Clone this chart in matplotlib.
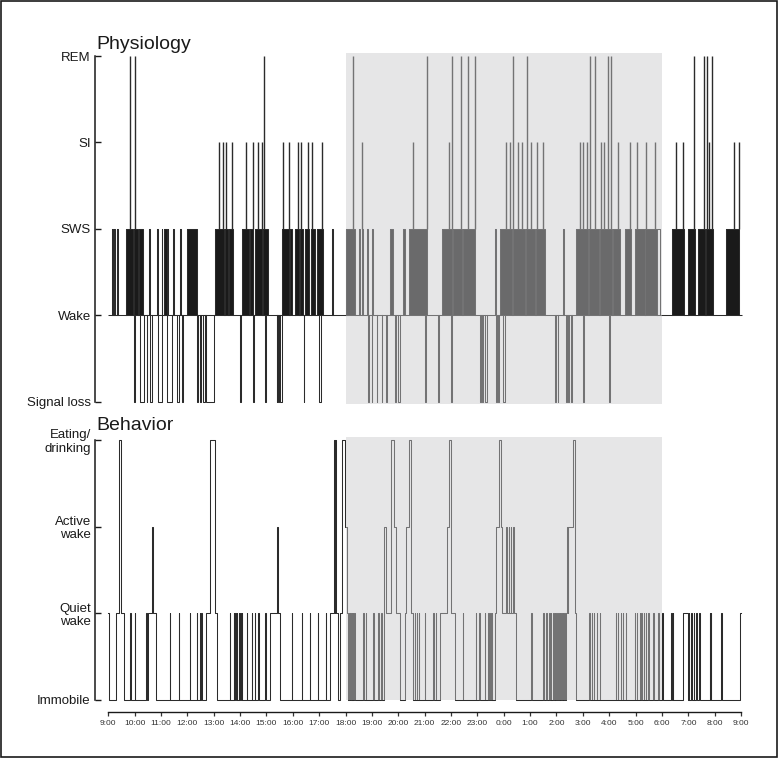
import matplotlib.pyplot as plt
from matplotlib.patches import Rectangle

plt.rcParams['font.family'] = ['Liberation Sans', 'DejaVu Sans']

# time axis: clock hours from 9:00 to 9:00 next day (24 = midnight)
hour_ticks = list(range(9, 34))
hour_labels = [f"{h % 24}:00" for h in hour_ticks]
night = (18, 30)  # dark phase 18:00 - 6:00

# ---- physiology (0 signal loss, 1 wake, 2 SWS, 3 SI, 4 REM)
phys_labels = ['Signal loss', 'Wake', 'SWS', 'SI', 'REM']
phys_span = (9.0, 33.05)

sws_blocks = [
    (9.13, 9.17), (9.22, 9.24), (9.32, 9.38),
    (9.67, 9.92), (9.97, 10.11), (10.15, 10.30),
    (10.55, 10.59), (10.86, 10.90),
    (11.02, 11.05), (11.10, 11.21), (11.25, 11.28),
    (11.44, 11.49), (11.72, 11.77),
    (12.00, 12.35),
    (13.05, 13.39), (13.42, 13.53), (13.56, 13.74),
    (14.06, 14.34), (14.38, 14.50), (14.57, 14.83), (14.86, 15.07),
    (15.57, 15.87), (15.89, 15.95),
    (16.07, 16.22), (16.27, 16.39), (16.45, 16.62), (16.67, 16.85), (16.90, 17.14),
    (17.47, 17.51),
    (18.01, 18.35), (18.52, 18.56), (18.61, 18.65), (18.82, 18.86), (18.99, 19.05),
    (19.68, 19.80), (20.18, 20.25),
    (20.41, 21.10),
    (21.64, 22.05), (22.07, 22.41), (22.45, 22.92),
    (23.66, 23.70),
    (23.85, 24.30), (24.34, 24.80), (24.84, 25.18), (25.21, 25.56),
    (26.23, 26.28),
    (26.73, 27.19), (27.22, 27.63), (27.66, 28.10), (28.13, 28.40),
    (28.59, 28.84),
    (28.97, 29.35), (29.37, 29.80),
    (30.40, 30.83), (30.99, 31.24), (31.37, 31.62), (31.66, 31.94),
    (32.42, 32.93),
]
sws_single = [(29.80, 29.94)]

si_spikes = [13.21, 13.34, 13.46, 13.68, 14.21, 14.47, 14.69, 14.82, 15.63, 15.86,
             16.18, 16.29, 16.58, 16.71, 17.12, 18.63, 20.56, 21.92, 24.10, 24.23,
             24.54, 24.71, 25.05, 25.26, 25.49, 26.88, 27.01, 27.16, 27.67, 27.79,
             28.33, 28.80, 29.05, 29.38, 29.75, 30.52, 30.80, 31.78, 32.73, 32.91]
rem_spikes = [9.82, 10.01, 14.90, 18.29, 21.09, 22.04, 22.36, 22.65, 22.90, 24.35,
              24.90, 27.26, 27.45, 27.96, 28.06, 31.20, 31.58, 31.69, 31.88]

loss_dips = [
    (9.97, 10.00), (10.22, 10.37), (10.45, 10.47), (10.60, 10.66), (10.87, 11.02),
    (11.24, 11.40), (11.62, 11.68), (11.78, 11.85), (12.36, 12.42), (12.48, 12.53),
    (12.59, 12.65), (12.70, 13.01), (14.01, 14.04), (14.49, 14.52), (14.96, 14.99),
    (15.38, 15.41), (15.45, 15.48), (15.53, 15.57), (16.41, 16.44), (17.01, 17.05),
    (18.86, 18.88), (18.99, 19.02), (19.18, 19.21), (19.37, 19.40), (19.53, 19.57),
    (19.87, 19.91), (19.98, 20.06), (21.01, 21.04), (21.51, 21.54), (21.99, 22.03),
    (23.11, 23.14), (23.19, 23.22), (23.28, 23.35), (23.72, 23.75), (23.80, 23.83),
    (23.96, 24.04), (25.95, 25.97), (26.04, 26.07), (26.36, 26.39), (26.45, 26.48),
    (26.54, 26.57), (27.01, 27.03), (28.01, 28.03),
]

# ---- behavior (0 immobile, 1 quiet wake, 2 active wake, 3 eating/drinking)
beh_labels = ['Immobile', 'Quiet\nwake', 'Active\nwake', 'Eating/\ndrinking']
behavior_steps = [
    (9.00, 1), (9.03, 0), (9.28, 1), (9.42, 3), (9.47, 1), (9.58, 0),
    (9.84, 1), (9.86, 0), (10.00, 1), (10.03, 0),
    (10.43, 1), (10.45, 0), (10.49, 1), (10.67, 2), (10.69, 1), (10.80, 0),
    (11.33, 1), (11.35, 0), (11.67, 1), (11.69, 0), (12.09, 1), (12.11, 0),
    (12.36, 1), (12.38, 0), (12.46, 1), (12.48, 0), (12.52, 1), (12.54, 0),
    (12.69, 1), (12.85, 3), (13.05, 1), (13.11, 0),
    (13.61, 1), (13.63, 0), (13.75, 1), (13.77, 0), (13.82, 1), (13.84, 0),
    (13.88, 1), (13.90, 0), (13.94, 1), (13.96, 0), (14.00, 1), (14.02, 0),
    (14.06, 1), (14.08, 0),
    (14.25, 1), (14.27, 0), (14.44, 1), (14.46, 0), (14.56, 1), (14.58, 0),
    (14.69, 1), (14.71, 0), (14.96, 1), (14.98, 0),
    (15.15, 1), (15.40, 2), (15.42, 1), (15.51, 0),
    (15.95, 1), (15.97, 0), (16.33, 1), (16.35, 0), (16.64, 1), (16.66, 0),
    (16.94, 1), (16.96, 0), (17.24, 1), (17.26, 0),
    (17.40, 1), (17.57, 3), (17.59, 1), (17.61, 3), (17.64, 1), (17.72, 0),
    (17.77, 1), (17.85, 3), (17.97, 2), (18.05, 1),
    (18.11, 0), (18.13, 1), (18.15, 0), (18.18, 1), (18.20, 0), (18.23, 1),
    (18.25, 0), (18.28, 1), (18.30, 0), (18.33, 1), (18.35, 0),
    (18.67, 1), (18.69, 0), (18.76, 1), (18.78, 0), (19.05, 1), (19.07, 0),
    (19.24, 1), (19.26, 0), (19.34, 1), (19.40, 0),
    (19.47, 2), (19.55, 1), (19.74, 3), (19.83, 2), (19.93, 1), (20.06, 0),
    (20.25, 1), (20.31, 2), (20.41, 3), (20.50, 1), (20.54, 0),
    (20.62, 1), (20.64, 0), (20.70, 1), (20.72, 0), (20.78, 1), (20.80, 0),
    (21.01, 1), (21.03, 0), (21.32, 1), (21.34, 0), (21.42, 1), (21.44, 0),
    (21.57, 1), (21.85, 2), (21.91, 3), (21.99, 1), (22.14, 0),
    (22.44, 1), (22.46, 0), (22.94, 1), (22.96, 0), (23.06, 1), (23.08, 0),
    (23.28, 1), (23.30, 0), (23.41, 1), (23.43, 0), (23.49, 1), (23.51, 0),
    (23.55, 1), (23.57, 0),
    (23.66, 1), (23.72, 2), (23.81, 3), (23.91, 2), (23.94, 1), (24.10, 2),
    (24.12, 1), (24.19, 2), (24.21, 1), (24.27, 2), (24.29, 1), (24.36, 2),
    (24.38, 1), (24.46, 0),
    (25.05, 1), (25.07, 0), (25.49, 1), (25.51, 0), (25.62, 1), (25.64, 0),
    (25.72, 1), (25.74, 0), (25.78, 1), (25.80, 0),
    (25.87, 1), (25.89, 0), (25.94, 1), (25.96, 0), (26.00, 1), (26.02, 0),
    (26.06, 1), (26.08, 0), (26.12, 1), (26.14, 0), (26.18, 1), (26.20, 0),
    (26.24, 1), (26.26, 0), (26.30, 1), (26.32, 0),
    (26.35, 1), (26.38, 2), (26.43, 1), (26.45, 2), (26.61, 3), (26.69, 2),
    (26.71, 1), (26.73, 0),
    (27.24, 1), (27.26, 0), (27.33, 1), (27.35, 0), (27.42, 1), (27.44, 0),
    (27.52, 1), (27.54, 0), (27.64, 1), (27.66, 0),
    (28.25, 1), (28.27, 0), (28.33, 1), (28.35, 0), (28.43, 1), (28.45, 0),
    (28.52, 1), (28.54, 0), (28.63, 1), (28.65, 0),
    (28.97, 1), (28.99, 0), (29.05, 1), (29.07, 0), (29.16, 1), (29.18, 0),
    (29.22, 1), (29.24, 0), (29.31, 1), (29.33, 0), (29.38, 1), (29.40, 0),
    (29.47, 1), (29.49, 0),
    (29.66, 1), (29.68, 0), (29.85, 1), (29.87, 0), (30.02, 1), (30.04, 0),
    (30.36, 1), (30.38, 0), (30.41, 1), (30.43, 0),
    (30.80, 1), (30.99, 0), (31.02, 1), (31.04, 0), (31.12, 1), (31.14, 0),
    (31.20, 1), (31.22, 0), (31.31, 1), (31.33, 0), (31.41, 1), (31.43, 0),
    (31.81, 1), (31.83, 0), (31.85, 1), (31.87, 0), (32.25, 1), (32.27, 0),
    (32.95, 1), (33.00, 1),
]

ink = '#1a1a1a'
line_ink = '#2b2b2b'
lw = 0.75
shade_fc = (0.79, 0.79, 0.80)
shade_alpha = 0.46

fig = plt.figure(figsize=(7.78, 7.58), dpi=100)
W, H = 778, 758
x_lo, x_hi = 8.495, 33.15

ax1 = fig.add_axes([95 / W, 1 - 408 / H, 650 / W, 360 / H])
ax2 = fig.add_axes([95 / W, 1 - 703 / H, 650 / W, 271 / H])

# physiology trace
ax1.hlines(1, *phys_span, color=line_ink, lw=lw)
for s, e in sws_blocks:
    ax1.fill_between([s, e], 1, 2, color=ink, lw=0)
    ax1.plot([s, s, e, e], [1, 2, 2, 1], color=line_ink, lw=lw)
for s, e in sws_single:
    ax1.plot([s, s, e, e], [1, 2, 2, 1], color=line_ink, lw=lw)
for s, e in loss_dips:
    ax1.plot([s, s, e, e], [1, 0, 0, 1], color=line_ink, lw=lw)
ax1.vlines(si_spikes, 2, 3, color=line_ink, lw=1.0)
ax1.vlines(rem_spikes, 2, 4, color=line_ink, lw=1.0)
ax1.add_patch(Rectangle((night[0], -0.025), night[1] - night[0], 4.06,
                        fc=shade_fc, alpha=shade_alpha, lw=0, zorder=5))

# behavior trace
bt = [t for t, s in behavior_steps]
bs = [s for t, s in behavior_steps]
ax2.step(bt, bs, where='post', color=line_ink, lw=lw)
ax2.add_patch(Rectangle((night[0], 0), night[1] - night[0], 3.035,
                        fc=shade_fc, alpha=shade_alpha, lw=0, zorder=5))

for ax, labels in [(ax1, phys_labels), (ax2, beh_labels)]:
    ax.set_xlim(x_lo, x_hi)
    ax.spines['top'].set_visible(False)
    ax.spines['right'].set_visible(False)
    ax.spines['left'].set_bounds(0, len(labels) - 1)
    ax.spines['left'].set_linewidth(1.1)
    ax.spines['left'].set_color(ink)
    ax.set_yticks(range(len(labels)))
    ax.set_yticklabels(labels, linespacing=1.15)
    ax.tick_params(axis='y', direction='in', length=4, width=1.0, pad=3,
                   labelsize=9.5, colors=ink)

ax1.set_ylim(-0.075, 4.093)
ax2.set_ylim(-0.035, 3.092)

ax1.spines['bottom'].set_visible(False)
ax1.set_xticks([])

ax2.spines['bottom'].set_position(('outward', 6.5))
ax2.spines['bottom'].set_bounds(hour_ticks[0], hour_ticks[-1])
ax2.spines['bottom'].set_linewidth(1.0)
ax2.spines['bottom'].set_color(ink)
ax2.set_xticks(hour_ticks)
ax2.set_xticklabels(hour_labels)
ax2.tick_params(axis='x', direction='out', length=3, width=0.9, pad=2.5,
                labelsize=6, colors='#333333')

fig.text(96 / W, 1 - 49 / H, 'Physiology', fontsize=14, color=ink, va='baseline')
fig.text(96 / W, 1 - 430 / H, 'Behavior', fontsize=14, color=ink, va='baseline')

fig.add_artist(Rectangle((0.0015, 0.0015), 0.997, 0.997, transform=fig.transFigure,
                         fill=False, ec=ink, lw=1.2))

fig.savefig('out.png', dpi=100)
